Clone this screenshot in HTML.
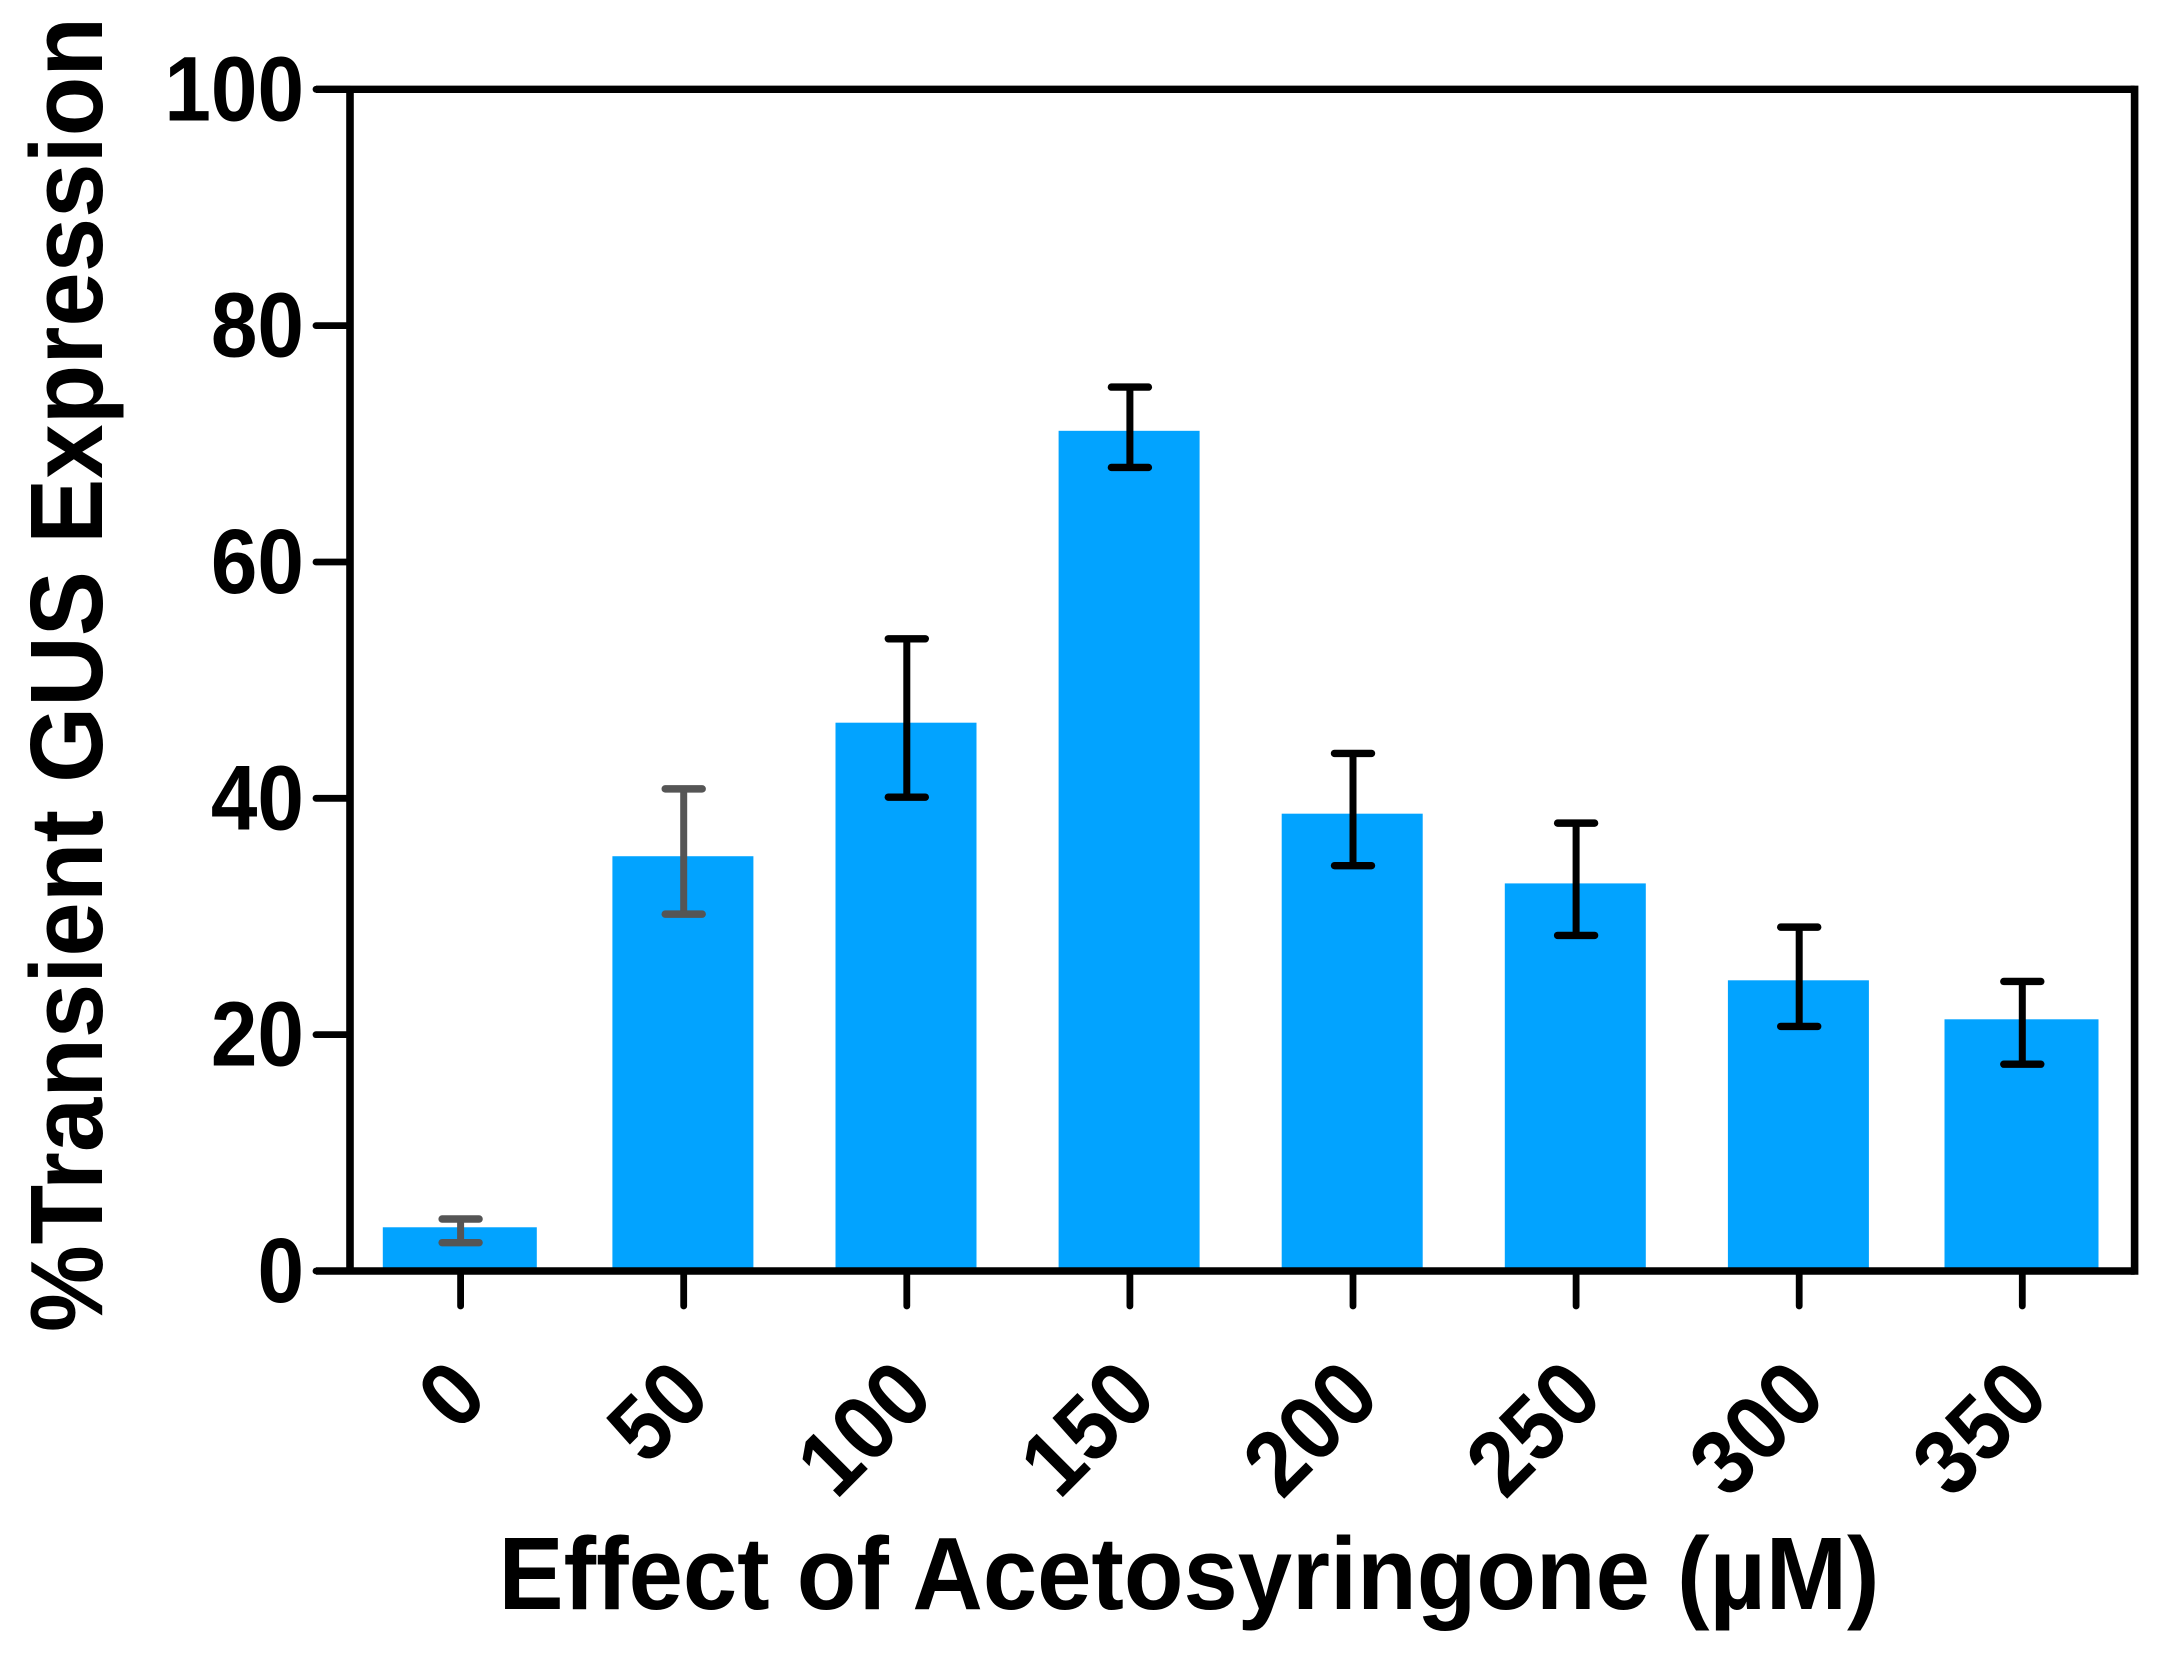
<!DOCTYPE html>
<html lang="en">
<head>
<meta charset="utf-8">
<title>Effect of Acetosyringone on Transient GUS Expression</title>
<style>
html,body{margin:0;padding:0;background:#fff;}
svg{display:block;font-family:"Liberation Sans",Arial,sans-serif;font-weight:bold;}
</style>
</head>
<body>
<svg id="chart" xmlns="http://www.w3.org/2000/svg" width="2164" height="1663" viewBox="0 0 2164 1663"></svg>
<script>
const categories = ["0","50","100","150","200","250","300","350"];
const values = [3.7,35.1,46.4,71.1,38.7,32.8,24.6,21.3];
const errUpper = [4.4,40.8,53.5,74.8,43.8,37.9,29.1,24.5];
const errLower = [2.4,30.2,40.1,68.0,34.3,28.4,20.7,17.5];
const yTicks = [0,20,40,60,80,100];

const svg = document.getElementById('chart');
const NS = 'http://www.w3.org/2000/svg';
const y0 = 1271, yTop = 89.3, xLeft = 350, xRight = 2134.6;
const x0 = 460.6, xStep = 223.1;
const digitWidth = 92 * 0.556;
function yScale(v){ return y0 - (v / 100) * (y0 - yTop); }
function xScale(i){ return x0 + i * xStep; }
function barWidth(i){ return (i === 0 || i === categories.length - 1) ? 154 : 141; }

function make(tag, attrs, text){
  const el = document.createElementNS(NS, tag);
  for (const k in attrs) el.setAttribute(k, attrs[k]);
  if (text !== undefined) el.textContent = text;
  svg.appendChild(el);
  return el;
}

categories.forEach(function(c, i){
  const w = barWidth(i), top = yScale(values[i]);
  const bar = make('rect', {x: xScale(i) - 0.8 - w / 2, y: top, width: w, height: y0 - top, fill: '#02a3ff'});
  
  
});

categories.forEach(function(c, i){
  const col = i < 2 ? '#555555' : '#000000';
  const xc = xScale(i), yu = yScale(errUpper[i]), yl = yScale(errLower[i]);
  const stem = make('line', {x1: xc, x2: xc, y1: yu, y2: yl, stroke: col, 'stroke-width': 7});
  
  
  const capU = make('line', {x1: xc - 18.5, x2: xc + 18.5, y1: yu, y2: yu, stroke: col, 'stroke-width': 7.4, 'stroke-linecap': 'round'});
  
  
  const capL = make('line', {x1: xc - 18.5, x2: xc + 18.5, y1: yl, y2: yl, stroke: col, 'stroke-width': 7.4, 'stroke-linecap': 'round'});
  
  
});

const frameTop = make('line', {x1: 316, x2: xRight, y1: yTop, y2: yTop, stroke: '#000', 'stroke-width': 7.4});


const frameRight = make('line', {x1: xRight, x2: xRight, y1: yTop - 3.7, y2: y0 + 3.7, stroke: '#000', 'stroke-width': 7.6});


const yAxis = make('line', {x1: xLeft, x2: xLeft, y1: yTop, y2: y0, stroke: '#000', 'stroke-width': 7.6});


const xAxis = make('line', {x1: 316, x2: xRight, y1: y0, y2: y0, stroke: '#000', 'stroke-width': 7.4});



yTicks.forEach(function(t){
  const yy = yScale(t);
  const tick = make('line', {x1: 316, x2: xLeft, y1: yy, y2: yy, stroke: '#000', 'stroke-width': 6.8, 'stroke-linecap': 'round'});
  
  
  const s = String(t);
  const label = make('text', {x: 304, y: yy + 31, 'text-anchor': 'end', 'font-size': 92, fill: '#000', textLength: s.length * digitWidth * 0.91, lengthAdjust: 'spacingAndGlyphs'}, s);
  
  
});

categories.forEach(function(c, i){
  const xc = xScale(i);
  const tick = make('line', {x1: xc, x2: xc, y1: y0, y2: 1306, stroke: '#000', 'stroke-width': 6.8, 'stroke-linecap': 'round'});
  
  
  const ax = xc + 30, ay = 1400;
  const label = make('text', {x: ax, y: ay, 'text-anchor': 'end', 'font-size': 92, fill: '#000', textLength: c.length * digitWidth * 0.93, lengthAdjust: 'spacingAndGlyphs', transform: 'rotate(-45 ' + ax + ' ' + ay + ')'}, c);
  
  
});

const xTitle = make('text', {x: 1189, y: 1609, 'text-anchor': 'middle', 'font-size': 103, fill: '#000', textLength: 1381, lengthAdjust: 'spacingAndGlyphs'}, 'Effect of Acetosyringone (\u00B5M)');


const yTitle = make('text', {x: 0, y: 0, 'text-anchor': 'middle', 'font-size': 103, fill: '#000', textLength: 1315, lengthAdjust: 'spacingAndGlyphs', transform: 'translate(102 674.5) rotate(-90)'});
yTitle.innerHTML = '%<tspan letter-spacing="-28"> </tspan>Transient GUS Expression';


</script>
</body>
</html>
